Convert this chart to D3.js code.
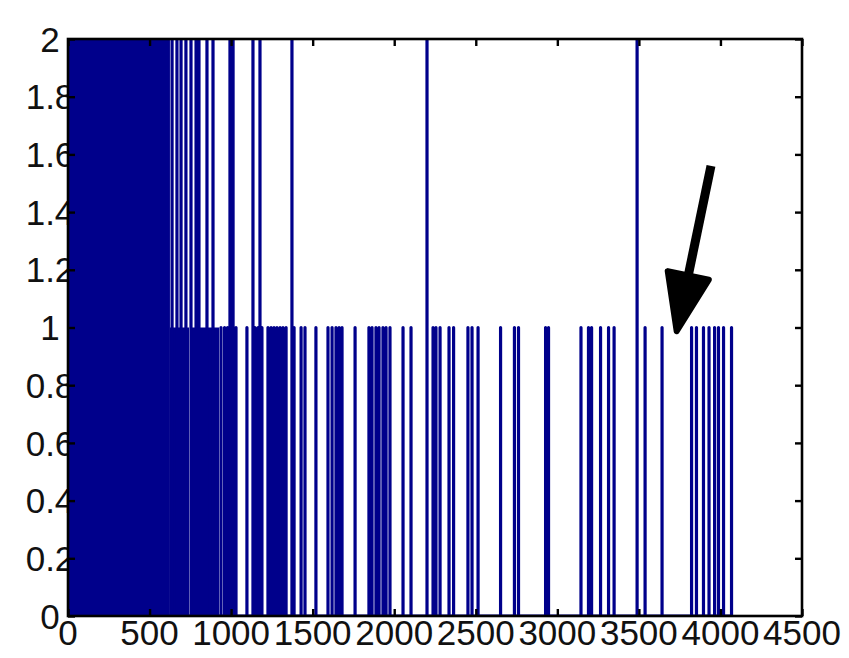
<!DOCTYPE html>
<html>
<head>
<meta charset="utf-8">
<script src="https://cdn.jsdelivr.net/npm/d3@7"></script>
<style>
  html, body { margin: 0; padding: 0; background: #fff; }
  svg { display: block; }
</style>
</head>
<body>
<svg id="chart" width="849" height="658"></svg>
<script>
// Sample ranges where the trace toggles so quickly it reads as a solid block
const denseStart = [0, 625, 748];
const denseEnd   = [625, 742, 926];
const denseLevel = [2, 1, 1];

// Isolated excursions of the trace to level 2
const spikesLevel2 = [638, 668, 693, 723, 754, 785, 803, 852, 889, 993, 1012,
  1134, 1177, 1373, 2201, 3489];

// Isolated excursions of the trace to level 1
const spikesLevel1 = [938, 960, 978, 1030, 1097, 1146, 1165, 1189, 1226, 1245,
  1263, 1281, 1300, 1318, 1337, 1386, 1429, 1453, 1520, 1594, 1619, 1643, 1662,
  1680, 1760, 1845, 1864, 1888, 1907, 1931, 1950, 1974, 2054, 2103, 2238, 2256,
  2281, 2336, 2364, 2452, 2477, 2514, 2652, 2737, 2762, 2928, 2946, 3145, 3191,
  3210, 3265, 3314, 3348, 3538, 3642, 3823, 3853, 3896, 3930, 3964, 3988, 4019,
  4068];

const xTicks = [0, 500, 1000, 1500, 2000, 2500, 3000, 3500, 4000, 4500];
const yTicks = [0, 0.2, 0.4, 0.6, 0.8, 1, 1.2, 1.4, 1.6, 1.8, 2];
const yTickLabels = ["0", "0.2", "0.4", "0.6", "0.8", "1", "1.2", "1.4", "1.6", "1.8", "2"];

// Annotation arrow, in data coordinates
const arrowTail = [3942, 1.56];
const arrowTip  = [3728, 0.977];

const W = 849, H = 658;
const m = { top: 39, right: 47, bottom: 42, left: 68 };
const traceColor = "#00008b";
const labelFont = '"Liberation Sans", Arial, sans-serif';
const labelSize = 35;

const svg = d3.select("#chart");

const x = d3.scaleLinear().domain([0, 4500]).range([m.left, W - m.right]);
const y = d3.scaleLinear().domain([0, 2]).range([H - m.bottom, m.top]);

// Y tick labels, centred in the left margin; the axes background drawn next
// covers whatever part of a long label reaches into the plot
svg.append("g")
  .selectAll("text")
  .data(yTicks)
  .join("text")
  .attr("x", m.left - 18)
  .attr("y", d => y(d))
  .attr("dy", "0.36em")
  .attr("text-anchor", "middle")
  .attr("font-family", labelFont)
  .attr("font-size", labelSize)
  .attr("fill", "#111")
  .text((d, i) => yTickLabels[i]);

// X tick labels
svg.append("g")
  .selectAll("text")
  .data(xTicks)
  .join("text")
  .attr("x", d => x(d))
  .attr("y", y(0) + 4)
  .attr("dy", "0.72em")
  .attr("text-anchor", "middle")
  .attr("font-family", labelFont)
  .attr("font-size", labelSize)
  .attr("fill", "#111")
  .text(d => d3.format("d")(d));

// Axes background
svg.append("rect")
  .attr("x", x(0)).attr("y", y(2))
  .attr("width", x(4500) - x(0)).attr("height", y(0) - y(2))
  .attr("fill", "#fff");

svg.append("clipPath").attr("id", "plot-clip")
  .append("rect")
  .attr("x", x(0)).attr("y", y(2))
  .attr("width", x(4500) - x(0)).attr("height", y(0) - y(2));

const plot = svg.append("g").attr("clip-path", "url(#plot-clip)");

// Solid blocks of rapid toggling
plot.selectAll("rect.dense")
  .data(denseStart.map((s, i) => ({ s, e: denseEnd[i], v: denseLevel[i] })))
  .join("rect")
  .attr("class", "dense")
  .attr("x", d => x(d.s))
  .attr("width", d => x(d.e) - x(d.s))
  .attr("y", d => y(d.v))
  .attr("height", d => y(0) - y(d.v))
  .attr("fill", traceColor);

// Trace: baseline with vertical excursions
const spikes = spikesLevel2.map(s => [s, 2]).concat(spikesLevel1.map(s => [s, 1]))
  .sort((a, b) => a[0] - b[0]);
const tracePts = [[0, 0]];
spikes.forEach(([sx, sv]) => {
  tracePts.push([sx, 0], [sx, sv], [sx, 0]);
});

plot.append("path")
  .datum(tracePts)
  .attr("fill", "none")
  .attr("stroke", traceColor)
  .attr("stroke-width", 3.2)
  .attr("stroke-linejoin", "round")
  .attr("d", d3.line().x(d => x(d[0])).y(d => y(d[1])));

// Inward ticks on all four sides
const tickLen = 7;
function ticksOnly(g) {
  g.select(".domain").remove();
  g.selectAll(".tick line").attr("stroke", "#000").attr("stroke-width", 2.4);
}
svg.append("g").attr("transform", `translate(0,${y(0)})`)
  .call(d3.axisBottom(x).tickValues(xTicks).tickFormat("").tickSizeInner(-tickLen).tickSizeOuter(0))
  .call(ticksOnly);
svg.append("g").attr("transform", `translate(0,${y(2)})`)
  .call(d3.axisTop(x).tickValues(xTicks).tickFormat("").tickSizeInner(-tickLen).tickSizeOuter(0))
  .call(ticksOnly);
svg.append("g").attr("transform", `translate(${x(0)},0)`)
  .call(d3.axisLeft(y).tickValues(yTicks).tickFormat("").tickSizeInner(-tickLen).tickSizeOuter(0))
  .call(ticksOnly);
svg.append("g").attr("transform", `translate(${x(4500)},0)`)
  .call(d3.axisRight(y).tickValues(yTicks).tickFormat("").tickSizeInner(-tickLen).tickSizeOuter(0))
  .call(ticksOnly);

// Axes box
svg.append("rect")
  .attr("x", x(0)).attr("y", y(2))
  .attr("width", x(4500) - x(0)).attr("height", y(0) - y(2))
  .attr("fill", "none").attr("stroke", "#000").attr("stroke-width", 2.6);

// Annotation arrow
const tx = x(arrowTail[0]), ty = y(arrowTail[1]);
const hx = x(arrowTip[0]),  hy = y(arrowTip[1]);
const len = Math.hypot(hx - tx, hy - ty);
const ux = (hx - tx) / len, uy = (hy - ty) / len;
const px = -uy, py = ux;
const headLen = 60, headHalf = 21;
const bx = hx - ux * headLen, by = hy - uy * headLen;

svg.append("line")
  .attr("x1", tx).attr("y1", ty)
  .attr("x2", bx + ux * 4).attr("y2", by + uy * 4)
  .attr("stroke", "#000").attr("stroke-width", 9);

svg.append("path")
  .attr("d", d3.line()([
    [hx - ux * 3, hy - uy * 3],
    [bx + px * headHalf, by + py * headHalf],
    [bx - px * headHalf, by - py * headHalf]
  ]) + "Z")
  .attr("fill", "#000")
  .attr("stroke", "#000")
  .attr("stroke-width", 6)
  .attr("stroke-linejoin", "round");
</script>
</body>
</html>
